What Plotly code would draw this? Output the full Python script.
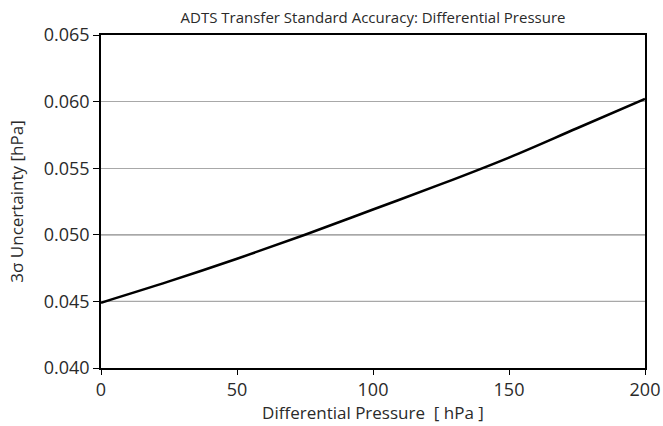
import plotly.graph_objects as go

pressure = [0, 25, 50, 75, 100, 125, 150, 175, 200]
uncertainty = [0.0449, 0.0465, 0.0482, 0.0500, 0.0519, 0.0538, 0.0558, 0.0580, 0.0602]
y_ticks = [0.040, 0.045, 0.050, 0.055, 0.060, 0.065]
y_tick_text = ["0.040", "0.045", "0.050", "0.055", "0.060", "0.065"]
x_ticks = [0, 50, 100, 150, 200]
dark_grid = [0.045, 0.050]

FONT = "Open Sans, Noto Sans, sans-serif"
TXT = "#2a2a2a"

fig = go.Figure()
fig.add_trace(go.Scatter(x=pressure, y=uncertainty, mode="lines",
                         line=dict(color="black", width=2.5, shape="spline"),
                         showlegend=False))

for g in dark_grid:
    fig.add_shape(type="line", xref="paper", x0=0, x1=1, yref="y", y0=g, y1=g,
                  line=dict(color="#333333", width=1), layer="below")

fig.update_layout(
    width=663, height=426,
    margin=dict(l=101, r=18, t=35, b=58),
    paper_bgcolor="white", plot_bgcolor="white",
    font=dict(family=FONT, color=TXT),
    title=dict(text="ADTS Transfer Standard Accuracy: Differential Pressure",
               x=(101 + 645) / 2 / 663, xanchor="center", y=1 - 18 / 426, yanchor="middle",
               font=dict(size=15, family=FONT, color=TXT)),
    xaxis=dict(range=[0, 200], tickvals=x_ticks, showgrid=False, zeroline=False,
               automargin=False,
               showline=True, linecolor="black", linewidth=1.5, mirror=True,
               ticks="outside", ticklen=5, tickcolor="black",
               tickfont=dict(size=18, family=FONT, color=TXT),
               title=dict(text="Differential Pressure  [ hPa ]", standoff=4,
                          font=dict(size=17, family=FONT, color=TXT))),
    yaxis=dict(range=[0.040, 0.065], tickvals=y_ticks, ticktext=y_tick_text,
               showgrid=True, gridcolor="#a8a8a8", gridwidth=1, zeroline=False,
               automargin=False,
               showline=True, linecolor="black", linewidth=1.5, mirror=True,
               ticks="outside", ticklen=6, tickcolor="black",
               tickfont=dict(size=18, family=FONT, color=TXT),
               title=dict(text="3σ Uncertainty [hPa]", standoff=16,
                          font=dict(size=17, family=FONT, color=TXT))),
)

fig.write_html("out.html")
